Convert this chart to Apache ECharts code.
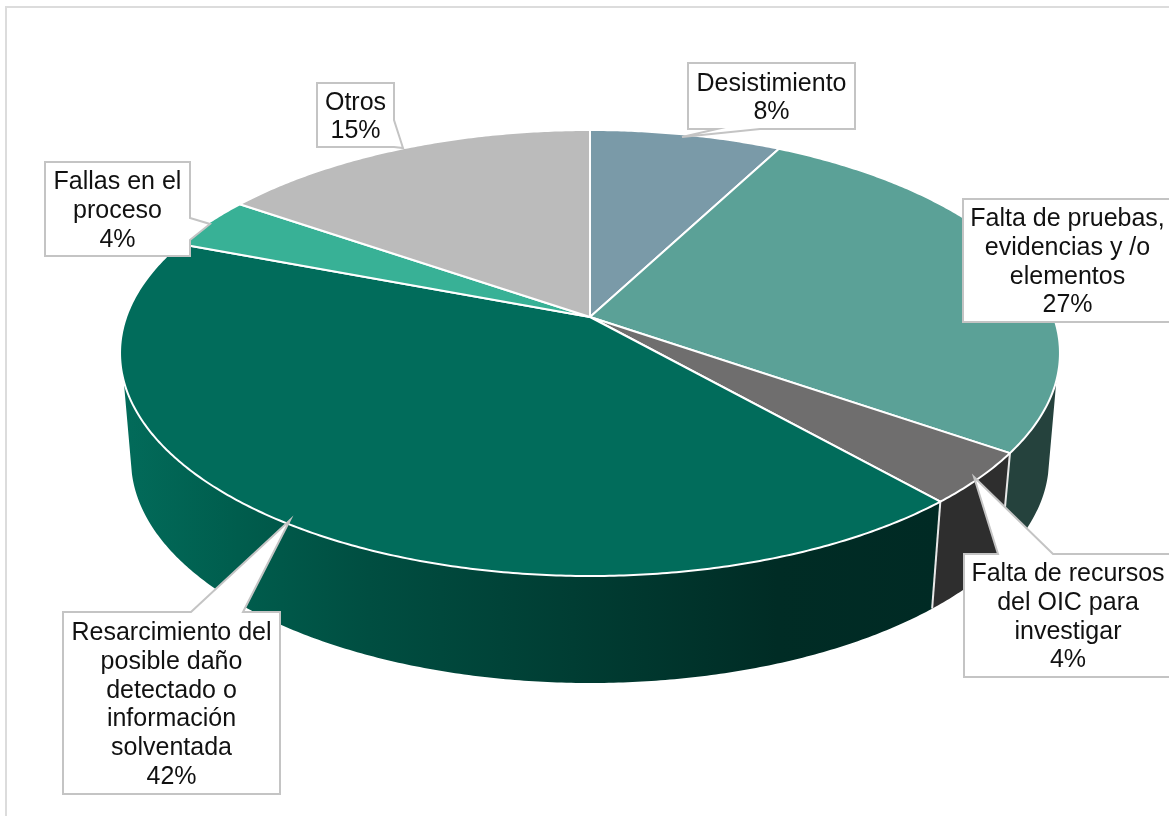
<!DOCTYPE html>
<html>
<head>
<meta charset="utf-8">
<style>
  html, body { margin: 0; padding: 0; background: #fff; }
  #chart-container { width: 1169px; height: 816px; }
</style>
<script src="https://cdn.jsdelivr.net/npm/echarts@6/dist/echarts.min.js"></script>
</head>
<body>
<div id="chart-container"></div>
<script>
// values (labels show them rounded)
const categories = [
  "Desistimiento",
  "Falta de pruebas,\nevidencias y /o\nelementos",
  "Falta de recursos\ndel OIC para\ninvestigar",
  "Resarcimiento del\nposible daño\ndetectado o\ninformación\nsolventada",
  "Fallas en el\nproceso",
  "Otros",
];
const values = [7.7, 26.9, 3.8, 42.3, 3.8, 15.4];

const topColors = ["#7a9aa8", "#5ba197", "#6f6e6e", "#016c5b", "#38b196", "#bbbbbb"];
const wallColors = [null, "#25423d", "#2e2e2e", "resarcimiento", null, null];

// callout outlines, box first then the pointer
const calloutBoxes = [
  [688, 63, 167, 66],
  [963, 199, 209, 123],
  [964, 554, 208, 123],
  [63, 612, 217, 182],
  [45, 162, 145, 94],
  [317, 83, 77, 64],
];
const calloutOutlines = [
  [[688, 63], [855, 63], [855, 129], [760, 129], [682, 137], [717, 129], [688, 129]],
  [[963, 199], [1172, 199], [1172, 322], [963, 322]],
  [[964, 554], [998, 554], [974, 477], [1053, 554], [1172, 554], [1172, 677], [964, 677]],
  [[63, 612], [191, 612], [290, 520], [243, 612], [280, 612], [280, 794], [63, 794]],
  [[45, 162], [190, 162], [190, 218], [210, 224], [190, 240], [190, 256], [45, 256]],
  [[317, 83], [394, 83], [394, 120], [403, 148], [394, 147], [317, 147]],
];

// 3d pie: unit circle seen through a perspective, apex of the slices sits above the ellipse center
const CX = 590;
const APEX_Y = 317;
const PERSP = 0.1614;
const SCALE_Y = 217.2;
const SCALE_X = 463.8;
const DEPTH = 107;
const BOTTOM_RATIO = 459 / 470;
const WALL_TOP_LIMIT = 380;
const WALL_BOTTOM_LIMIT = 365;

const total = values.reduce((a, b) => a + b, 0);

function project(angle) {
  const u = Math.sin(angle);
  const v = Math.cos(angle);
  const w = 1 + PERSP * v;
  return [CX + (SCALE_X * u) / w, APEX_Y - (SCALE_Y * v) / w];
}

function sliceAngles(index) {
  let before = 0;
  for (let i = 0; i < index; i++) before += values[i];
  return [(before / total) * Math.PI * 2, ((before + values[index]) / total) * Math.PI * 2];
}

function arcPoints(index) {
  const [start, end] = sliceAngles(index);
  const steps = Math.max(4, Math.round(((end - start) * 180) / Math.PI) * 2);
  const pts = [];
  for (let i = 0; i <= steps; i++) {
    pts.push(project(start + ((end - start) * i) / steps));
  }
  return pts;
}

function wallFill(index) {
  if (wallColors[index] !== "resarcimiento") return wallColors[index];
  return new echarts.graphic.LinearGradient(0, 0, 1, 0, [
    { offset: 0, color: "#026b5a" },
    { offset: 0.14, color: "#005d4d" },
    { offset: 0.3, color: "#004e41" },
    { offset: 0.55, color: "#003d33" },
    { offset: 0.8, color: "#002c25" },
    { offset: 1, color: "#002a24" },
  ]);
}

function renderWall(params) {
  const i = params.dataIndex;
  if (!wallColors[i]) return null;
  const arc = arcPoints(i);
  const top = arc.filter((p) => p[1] >= WALL_TOP_LIMIT);
  const bottom = arc
    .filter((p) => p[1] >= WALL_BOTTOM_LIMIT)
    .map((p) => [CX + (p[0] - CX) * BOTTOM_RATIO, p[1] + DEPTH]);
  return {
    type: "polygon",
    shape: { points: top.concat(bottom.reverse()) },
    style: { fill: wallFill(i), stroke: null },
  };
}

function renderDivider(params) {
  // white edge between the walls
  const i = params.dataIndex;
  if (i !== 1 && i !== 2) return null;
  const p = project(sliceAngles(i)[1]);
  return {
    type: "line",
    shape: {
      x1: p[0],
      y1: p[1],
      x2: CX + (p[0] - CX) * BOTTOM_RATIO,
      y2: p[1] + DEPTH,
    },
    style: { stroke: "#e8e8e8", lineWidth: 2 },
  };
}

function renderTop(params) {
  const i = params.dataIndex;
  return {
    type: "polygon",
    shape: { points: [[CX, APEX_Y]].concat(arcPoints(i)) },
    style: { fill: topColors[i], stroke: "#ffffff", lineWidth: 2, lineJoin: "round" },
  };
}

function renderCallout(params, api) {
  const i = params.dataIndex;
  const box = calloutBoxes[i];
  return {
    type: "group",
    children: [
      {
        type: "polygon",
        shape: { points: calloutOutlines[i] },
        style: { fill: "#ffffff", stroke: "#c4c4c4", lineWidth: 2, lineJoin: "miter" },
      },
      {
        type: "text",
        style: {
          x: box[0] + box[2] / 2,
          y: box[1] + box[3] / 2 + 2,
          text: categories[i] + "\n" + Math.round(api.value(0)) + "%",
          align: "center",
          verticalAlign: "middle",
          font: '25px "Liberation Sans", Arial, sans-serif',
          lineHeight: 28.7,
          fill: "#111111",
        },
      },
    ],
  };
}

const seriesData = values.map((v, i) => ({ name: categories[i], value: v }));

const chart = echarts.init(document.getElementById("chart-container"), null, {
  renderer: "canvas",
});

chart.setOption({
  animation: false,
  backgroundColor: "#ffffff",
  graphic: [
    {
      type: "rect",
      z: -1,
      shape: { x: 6, y: 7, width: 1300, height: 1000 },
      style: { fill: "#ffffff", stroke: "#dcdcdc", lineWidth: 2 },
    },
  ],
  series: [
    { type: "custom", coordinateSystem: "none", z: 2, data: seriesData, renderItem: renderWall },
    { type: "custom", coordinateSystem: "none", z: 3, data: seriesData, renderItem: renderDivider },
    { type: "custom", coordinateSystem: "none", z: 4, data: seriesData, renderItem: renderTop },
    { type: "custom", coordinateSystem: "none", z: 5, data: seriesData, renderItem: renderCallout },
  ],
});
</script>
</body>
</html>
